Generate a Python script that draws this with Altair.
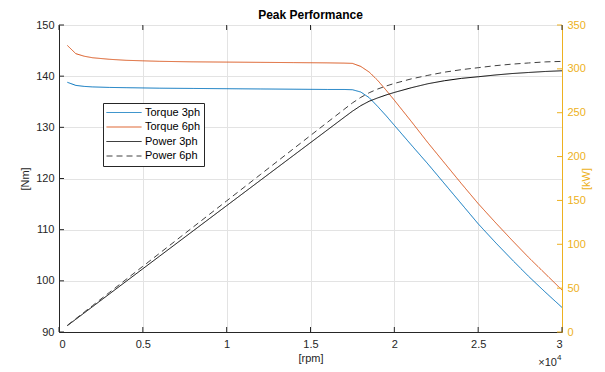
import altair as alt
import pandas as pd

# ---------------- data ----------------
rpm = [500, 1000, 1500, 2000, 3000, 4000, 5000, 6000, 8000, 10000, 12000, 14000,
       16000, 17000, 17500, 18000, 18500, 19000, 19500, 20000, 21000, 22000,
       23000, 24000, 25000, 26000, 27000, 28000, 29000, 30000]

torque_3ph = [138.8, 138.2, 138.0, 137.9, 137.8, 137.75, 137.7, 137.65, 137.6, 137.55,
              137.5, 137.45, 137.4, 137.4, 137.35, 136.9, 135.8, 134.1, 132.3, 130.4,
              126.6, 122.85, 118.95, 115.05, 111.15, 107.6, 104.2, 100.9, 97.8, 94.8]

torque_6ph = [146.0, 144.4, 143.9, 143.6, 143.3, 143.1, 143.0, 142.9, 142.8, 142.75,
              142.7, 142.65, 142.6, 142.55, 142.5, 141.9, 140.8, 139.2, 137.3, 135.3,
              131.2, 127.0, 123.0, 119.0, 115.1, 111.5, 108.0, 104.6, 101.4, 98.2]

power_3ph = [7.27, 14.47, 21.68, 28.88, 43.29, 57.70, 72.10, 86.49, 115.28, 144.04,
             172.79, 201.51, 230.22, 244.61, 251.71, 258.05, 263.09, 266.82, 270.16, 273.11,
             278.41, 283.03, 286.50, 289.15, 290.99, 292.96, 294.62, 295.86, 297.01, 297.82]

power_6ph = [7.64, 15.12, 22.60, 30.08, 45.02, 59.94, 74.87, 89.79, 119.63, 149.49,
             179.32, 209.14, 238.93, 253.77, 261.15, 267.48, 272.77, 276.96, 280.37, 283.37,
             288.52, 292.59, 296.25, 299.08, 301.33, 303.58, 305.36, 306.70, 307.94, 308.51]

series_names = ["Torque 3ph", "Torque 6ph", "Power 3ph", "Power 6ph"]
series_colors = ["#0072BD", "#D95319", "#000000", "#404040"]
series_dash = [[1, 0], [1, 0], [1, 0], [6, 4]]

x_ticks = [0, 5000, 10000, 15000, 20000, 25000, 30000]
left_ticks = [90, 100, 110, 120, 130, 140, 150]
right_ticks = [0, 50, 100, 150, 200, 250, 300, 350]

chart_title = "Peak Performance"
x_title = "[rpm]"
left_title = "[Nm]"
right_title = "[kW]"
exp_base = "×10"
exp_power = "4"

# ---------------- styling ----------------
W, H = 503, 307
FONT = "Liberation Sans"
AX = "#262626"
ORANGE = "#EDB120"
GRID = "#e3e3e3"
TICK = 5

df_torque = pd.DataFrame({
    "rpm": rpm * 2,
    "value": torque_3ph + torque_6ph,
    "series": ["Torque 3ph"] * len(rpm) + ["Torque 6ph"] * len(rpm),
})
df_power = pd.DataFrame({
    "rpm": rpm * 2,
    "value": power_3ph + power_6ph,
    "series": ["Power 3ph"] * len(rpm) + ["Power 6ph"] * len(rpm),
})
df_xt = pd.DataFrame({"rpm": x_ticks})
df_lt = pd.DataFrame({"t": left_ticks})
df_rt = pd.DataFrame({"t": right_ticks})

x_scale = alt.Scale(domain=[0, 30000], nice=False, zero=False)
l_scale = alt.Scale(domain=[90, 150], nice=False, zero=False)
r_scale = alt.Scale(domain=[0, 350], nice=False, zero=False)

legend = alt.Legend(
    title=None, orient="none", legendX=44, legendY=78,
    symbolType="stroke", symbolSize=1225, symbolStrokeWidth=1,
    labelFontSize=11, labelFont=FONT, labelColor="#000000", labelOffset=3,
    fillColor="white", strokeColor=AX, padding=3,
    clipHeight=13, rowPadding=1.5,
)
color = alt.Color("series:N", scale=alt.Scale(domain=series_names, range=series_colors), legend=legend)
dash = alt.StrokeDash("series:N", scale=alt.Scale(domain=series_names, range=series_dash), legend=legend)

x_axis = alt.Axis(values=x_ticks, labelExpr="datum.value / 10000", tickSize=0,
                  grid=True, gridColor=GRID, domainColor=AX, labelColor=AX,
                  labelFontSize=11, labelPadding=6, title=x_title, titleFontSize=11,
                  titleFontWeight="normal", titleColor=AX, titlePadding=3)
l_axis = alt.Axis(values=left_ticks, orient="left", tickSize=0, grid=True, gridColor=GRID,
                  domainColor=AX, labelColor=AX, labelFontSize=11, labelPadding=5,
                  title=left_title, titleFontSize=11, titleFontWeight="normal",
                  titleColor=AX, titlePadding=5)
r_axis = alt.Axis(values=right_ticks, orient="right", tickSize=0, grid=False,
                  domainColor=ORANGE, labelColor=ORANGE, labelFontSize=11, labelPadding=5,
                  title=right_title, titleFontSize=11, titleFontWeight="normal",
                  titleColor=ORANGE, titlePadding=6, titleAngle=270)

X = alt.X("rpm:Q", scale=x_scale, axis=x_axis)

torque_lines = alt.Chart(df_torque).mark_line(strokeWidth=1).encode(
    x=X,
    y=alt.Y("value:Q", scale=l_scale, axis=l_axis),
    color=color, strokeDash=dash,
)
power_lines = alt.Chart(df_power).mark_line(strokeWidth=1).encode(
    x=X,
    y=alt.Y("value:Q", scale=r_scale, axis=r_axis),
    color=color, strokeDash=dash,
)

# inward tick marks (MATLAB style)
xt_bottom = alt.Chart(df_xt).mark_rule(color=AX, strokeWidth=1).encode(
    x=X, y=alt.value(H), y2=alt.value(H - TICK))
xt_top = alt.Chart(df_xt).mark_rule(color=AX, strokeWidth=1).encode(
    x=X, y=alt.value(0), y2=alt.value(TICK))
lt = alt.Chart(df_lt).mark_rule(color=AX, strokeWidth=1).encode(
    y=alt.Y("t:Q", scale=l_scale, axis=None),
    x=alt.value(0), x2=alt.value(TICK))
rt = alt.Chart(df_rt).mark_rule(color=ORANGE, strokeWidth=1).encode(
    y=alt.Y("t:Q", scale=r_scale, axis=None),
    x=alt.value(W), x2=alt.value(W - TICK))

df_ann = pd.DataFrame({"a": [exp_base], "b": [exp_power]})
exp_text = alt.Chart(df_ann).mark_text(align="right", baseline="alphabetic", fontSize=11,
                                       font=FONT, color=AX).encode(
    x=alt.value(498), y=alt.value(341), text="a:N")
exp_sup = alt.Chart(df_ann).mark_text(align="left", baseline="alphabetic", fontSize=8,
                                      font=FONT, color=AX).encode(
    x=alt.value(498), y=alt.value(335), text="b:N")

chart = alt.layer(
    torque_lines, power_lines, lt, rt, xt_bottom, xt_top, exp_text, exp_sup
).resolve_scale(y="independent").properties(
    width=W, height=H,
    title=alt.TitleParams(chart_title, fontSize=12, fontWeight="bold", font=FONT,
                          color="#000000", anchor="middle", offset=-3),
    autosize=alt.AutoSizeParams(type="none"),
    padding={"left": 59, "top": 25, "right": 43, "bottom": 40},
    background="white",
).configure_view(stroke=AX, strokeWidth=1).configure_axis(
    labelFont=FONT, titleFont=FONT
).configure_legend(labelFont=FONT)

chart.save("out.html", embed_options={"renderer": "svg", "actions": False})
